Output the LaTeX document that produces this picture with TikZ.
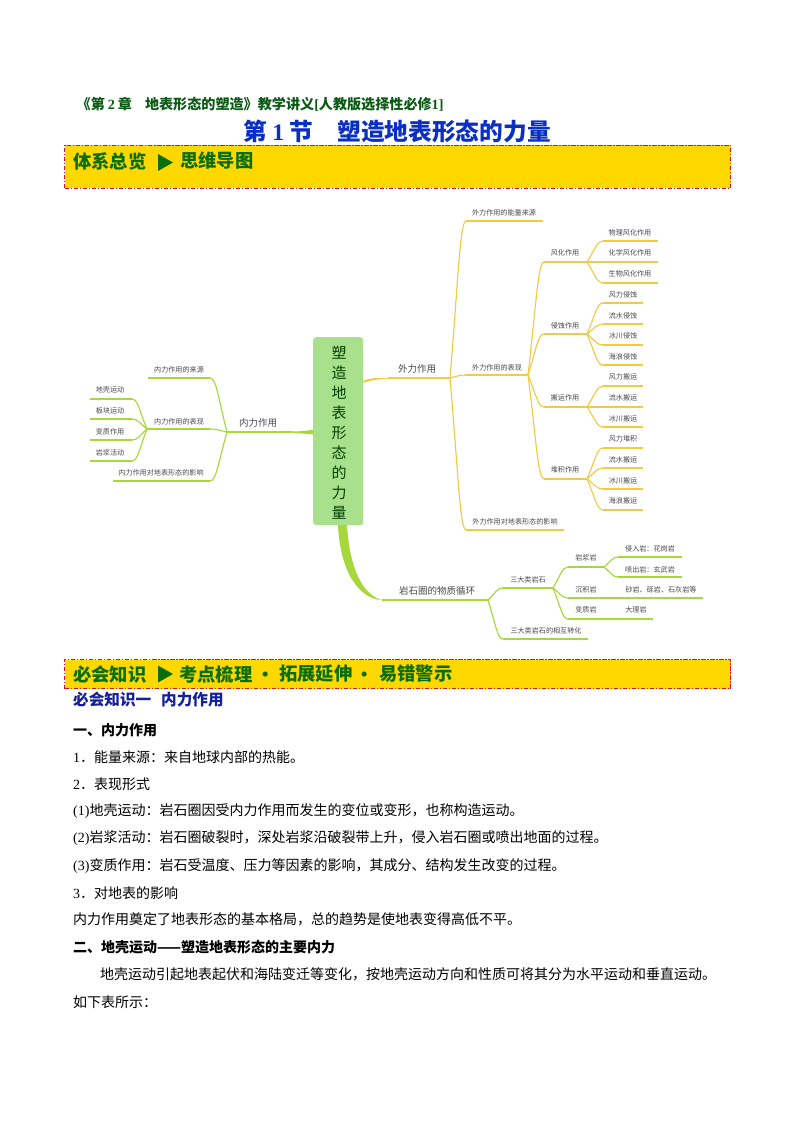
\documentclass[tikz,border=0pt]{standalone}
\usepackage{fontspec}
\setmainfont{Noto Sans CJK SC}
\newfontfamily\latf{Liberation Serif}
\usetikzlibrary{calc}
\definecolor{barfill}{HTML}{FFD800}
\definecolor{barline}{HTML}{D4142A}
\definecolor{bargreen}{HTML}{0B6E0B}
\definecolor{headgreen}{HTML}{0B5A14}
\definecolor{titleblue}{HTML}{0A2FC4}
\definecolor{subblue}{HTML}{14209A}
\definecolor{boxgreen}{HTML}{A9E08C}
\definecolor{lime}{HTML}{A6D83C}
\definecolor{amber}{HTML}{F2CB45}
\definecolor{maptext}{HTML}{4A4A4A}
\newcommand\ltn[1]{{\latf #1}}
\newcommand\fs[1]{\fontsize{#1}{#1}\selectfont}
\tikzset{
  barbox/.style={draw=barline,fill=barfill,line width=1pt,dash pattern=on 4.5pt off 1.5pt on 1.5pt off 1.5pt},
  bartext/.style={anchor=west,inner sep=0pt,text=bargreen,font=\fs{18.3}\bfseries},
  bodyline/.style={anchor=west,inner sep=0pt,text=black,font=\fs{14}},
  bodybold/.style={bodyline,font=\fs{14}\bfseries},
  maplabel/.style={inner sep=0pt,text=maptext,font=\fs{7.1}},
  bigmaplabel/.style={inner sep=0pt,text=maptext,font=\fs{9.5}},
  mainbox/.style={fill=boxgreen,rounded corners=3pt,minimum width=50pt,minimum height=188pt,inner sep=0pt},
  boxchar/.style={inner sep=0pt,text=black!75!green,font=\fs{15}},
  limeline/.style={draw=lime,line width=1.15pt},
  amberline/.style={draw=amber,line width=1.15pt},
}
% \topic{name}{x left}{x right}{y line}{x text}{y text}{style}{line style}{text}
\newcommand\topic[9]{%
  \coordinate (#1-l) at (#2,#4);
  \coordinate (#1-r) at (#3,#4);
  \node[#7] (#1) at (#5,#6) {#9};
  \draw[#8] (#1-l) -- (#1-r);
}
% \conn{style}{a}{b}: curve from anchor a to anchor b, flattening at b
\newcommand\conn[3]{%
  \draw[#1] let \p1=(#2), \p2=(#3) in (\p1) .. controls
   ({\x1+.5*(\x2-\x1)},{\y1+.6*(\y2-\y1)}) and ({\x1+.62*(\x2-\x1)},{\y2}) .. (\p2);
}
\begin{document}
\begin{tikzpicture}[x=1pt,y=-1pt]
\useasboundingbox (0,0) rectangle (794,1123);
\fill[white] (0,0) rectangle (794,1123);

% headings
\node[anchor=west,inner sep=0pt,text=headgreen,font=\fs{14.1}\bfseries] (chapter) at (76.5,104)
  {《第\hspace{3pt}\ltn{2}\hspace{3pt}章\hspace{13pt}地表形态的塑造》教学讲义\ltn{[}人教版选择性必修\ltn{1]}};
\node[anchor=west,inner sep=0pt,text=titleblue,font=\fs{23.7}\bfseries] (title) at (243,131)
  {第\hspace{5.5pt}\ltn{1}\hspace{5.5pt}节\hspace{24pt}塑造地表形态的力量};

% bar 1
\node[barbox,anchor=north west,minimum width=666pt,minimum height=43pt,inner sep=0pt] (bar1) at (64,145) {};
\node[bartext] (bar1a) at (73,161) {体系总览};
\fill[bargreen] (158,154) -- (173,162.5) -- (158,171) -- cycle;
\node[bartext] (bar1b) at (180,161) {思维导图};

% main box
\node[mainbox,anchor=north west] (root) at (313,337) {};
\foreach \c/\y/\n in {塑/353/a,造/373/b,地/393/c,表/413/d,形/433/e,态/453/f,的/473/g,力/493/h,量/513/i}
  \node[boxchar] (rootchar\n) at (339,\y) {\c};

% left branch
\topic{inner}{227}{292}{432}{258}{423}{bigmaplabel}{limeline}{内力作用}
\fill[lime] (inner-r) ++(0,-.6) .. controls (300,431.4) .. (root.west |- 0,429.8) -- (root.west |- 0,434.4) .. controls (302,433.4) .. (292,432.6) -- cycle;
\topic{ilsrc}{148}{210}{378}{179}{370}{maplabel}{limeline}{内力作用的来源}
\topic{ilshow}{147}{210}{429}{179}{422}{maplabel}{limeline}{内力作用的表现}
\topic{ileff}{113}{210}{481}{161}{473}{maplabel}{limeline}{内力作用对地表形态的影响}
\conn{limeline}{inner-l}{ilsrc-r}
\conn{limeline}{inner-l}{ilshow-r}
\conn{limeline}{inner-l}{ileff-r}
\topic{ila}{90}{132}{399}{110}{390}{maplabel}{limeline}{地壳运动}
\topic{ilb}{90}{132}{419}{110}{411}{maplabel}{limeline}{板块运动}
\topic{ilc}{90}{132}{440}{110}{432}{maplabel}{limeline}{变质作用}
\topic{ild}{90}{132}{461}{110}{453}{maplabel}{limeline}{岩浆活动}
\foreach \k in {ila,ilb,ilc,ild}{\conn{limeline}{ilshow-l}{\k-r}}

% right amber branch
\topic{outer}{388}{450}{378}{417}{369}{bigmaplabel}{amberline}{外力作用}
\fill[amber] (root.east |- 0,380.5) .. controls (372,378) .. (outer-l) -- ++(0,.6) .. controls (374,379.8) .. (root.east |- 0,382.8) -- cycle;
\topic{oen}{466}{543}{221}{504}{213}{maplabel}{amberline}{外力作用的能量来源}
\topic{oshow}{465}{528}{375}{497}{368}{maplabel}{amberline}{外力作用的表现}
\topic{oeff}{466}{564}{530}{515}{522}{maplabel}{amberline}{外力作用对地表形态的影响}
\conn{amberline}{outer-r}{oen-l}
\conn{amberline}{outer-r}{oshow-l}
\conn{amberline}{outer-r}{oeff-l}
\topic{wh}{544}{587}{262}{565}{253}{maplabel}{amberline}{风化作用}
\topic{qs}{544}{587}{334}{565}{326}{maplabel}{amberline}{侵蚀作用}
\topic{by}{544}{587}{407}{565}{398}{maplabel}{amberline}{搬运作用}
\topic{dj}{544}{587}{479}{565}{470}{maplabel}{amberline}{堆积作用}
\foreach \k in {wh,qs,by,dj}{\conn{amberline}{oshow-r}{\k-l}}
\topic{wha}{603}{658}{241}{630}{233}{maplabel}{amberline}{物理风化作用}
\topic{whb}{603}{658}{262}{630}{253}{maplabel}{amberline}{化学风化作用}
\topic{whc}{603}{658}{283}{630}{274}{maplabel}{amberline}{生物风化作用}
\foreach \k in {wha,whb,whc}{\conn{amberline}{wh-r}{\k-l}}
\topic{qsa}{603}{643}{303}{623}{295}{maplabel}{amberline}{风力侵蚀}
\topic{qsb}{603}{643}{324}{623}{316}{maplabel}{amberline}{流水侵蚀}
\topic{qsc}{603}{643}{345}{623}{336}{maplabel}{amberline}{冰川侵蚀}
\topic{qsd}{603}{643}{365}{623}{357}{maplabel}{amberline}{海浪侵蚀}
\foreach \k in {qsa,qsb,qsc,qsd}{\conn{amberline}{qs-r}{\k-l}}
\topic{bya}{603}{643}{386}{623}{377}{maplabel}{amberline}{风力搬运}
\topic{byb}{603}{643}{407}{623}{398}{maplabel}{amberline}{流水搬运}
\topic{byc}{603}{643}{427}{623}{419}{maplabel}{amberline}{冰川搬运}
\foreach \k in {bya,byb,byc}{\conn{amberline}{by-r}{\k-l}}
\topic{dja}{603}{643}{448}{623}{439}{maplabel}{amberline}{风力堆积}
\topic{djb}{603}{643}{468}{623}{460}{maplabel}{amberline}{流水搬运}
\topic{djc}{603}{643}{489}{623}{481}{maplabel}{amberline}{冰川搬运}
\topic{djd}{603}{643}{510}{623}{501}{maplabel}{amberline}{海浪搬运}
\foreach \k in {dja,djb,djc,djd}{\conn{amberline}{dj-r}{\k-l}}

% bottom branch
\topic{rock}{382}{488}{600}{437}{591}{bigmaplabel}{limeline}{岩石圈的物质循环}
\fill[lime] (338,525) .. controls (340,570) and (358,599) .. (rock-l) .. controls (366,596) and (350,575) .. (347,525) -- cycle;
\topic{three}{503}{553}{588}{528}{580}{maplabel}{limeline}{三大类岩石}
\topic{conv}{503}{588}{639}{546}{631}{maplabel}{limeline}{三大类岩石的相互转化}
\conn{limeline}{rock-r}{three-l}
\conn{limeline}{rock-r}{conv-l}
\topic{yj}{568}{604}{567}{586}{558}{maplabel}{limeline}{岩浆岩}
\topic{cj}{568}{703}{598}{586}{590}{maplabel}{limeline}{沉积岩}
\topic{bz}{568}{653}{619}{586}{610}{maplabel}{limeline}{变质岩}
\foreach \k in {yj,cj,bz}{\conn{limeline}{three-r}{\k-l}}
\node[maplabel] (cjt) at (661,590) {砂岩、砾岩、石灰岩等};
\node[maplabel] (bzt) at (636,610) {大理岩};
\topic{yja}{618}{682}{557}{650}{549}{maplabel}{limeline}{侵入岩：花岗岩}
\topic{yjb}{618}{682}{577}{650}{570}{maplabel}{limeline}{喷出岩：玄武岩}
\foreach \k in {yja,yjb}{\conn{limeline}{yj-r}{\k-l}}

% bar 2
\node[barbox,anchor=north west,minimum width=666pt,minimum height=29pt,inner sep=0pt] (bar2) at (64,659) {};
\node[bartext] (bar2a) at (73,674) {必会知识};
\fill[bargreen] (158,665.5) -- (173,674) -- (158,682.5) -- cycle;
\node[bartext] (bar2b) at (179,674) {考点梳理};
\node[bartext,anchor=center] (bar2c) at (266,677) {·};
\node[bartext] (bar2d) at (279,674) {拓展延伸};
\node[bartext,anchor=center] (bar2e) at (365,677) {·};
\node[bartext] (bar2f) at (379,674) {易错警示};

% body
\node[anchor=west,inner sep=0pt,text=subblue,font=\fs{15.6}\bfseries] (sub1) at (73,700) {必会知识一\hspace{10pt}内力作用};
\node[bodybold] (t1) at (73,730) {一、内力作用};
\node[bodyline] (t2) at (73,757) {\ltn{1}．能量来源：来自地球内部的热能。};
\node[bodyline] (t3) at (73,784) {\ltn{2}．表现形式};
\node[bodyline] (t4) at (73,811) {\ltn{(1)}地壳运动：岩石圈因受内力作用而发生的变位或变形，也称构造运动。};
\node[bodyline] (t5) at (73,838) {\ltn{(2)}岩浆活动：岩石圈破裂时，深处岩浆沿破裂带上升，侵入岩石圈或喷出地面的过程。};
\node[bodyline] (t6) at (73,866) {\ltn{(3)}变质作用：岩石受温度、压力等因素的影响，其成分、结构发生改变的过程。};
\node[bodyline] (t7) at (73,893) {\ltn{3}．对地表的影响};
\node[bodyline] (t8) at (73,919) {内力作用奠定了地表形态的基本格局，总的趋势是使地表变得高低不平。};
\node[bodybold] (t9) at (73,947) {二、地壳运动——塑造地表形态的主要内力};
\node[bodyline] (t10) at (100,974) {地壳运动引起地表起伏和海陆变迁等变化，按地壳运动方向和性质可将其分为水平运动和垂直运动。};
\node[bodyline] (t11) at (73,1002) {如下表所示：};
\end{tikzpicture}
\end{document}
